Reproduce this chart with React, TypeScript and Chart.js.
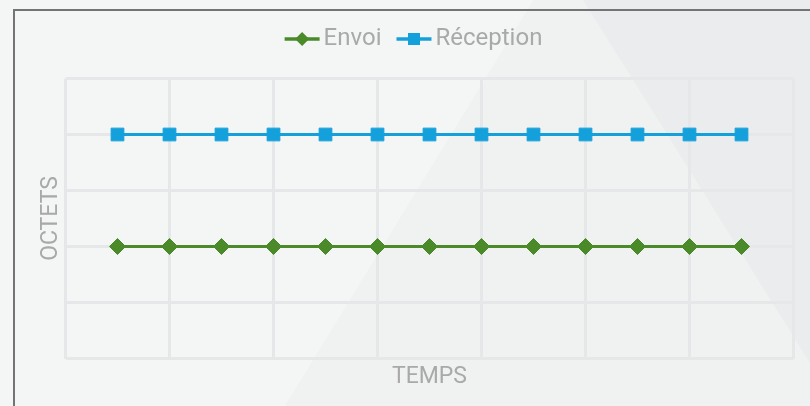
import React, { useEffect, useRef } from 'react';
import { Chart, registerables } from 'chart.js';

Chart.register(...registerables);

// ---- data ----
const TIME_STEPS = [1, 2, 3, 4, 5, 6, 7, 8, 9, 10, 11, 12, 13];
const ENVOI = [2, 2, 2, 2, 2, 2, 2, 2, 2, 2, 2, 2, 2];
const RECEPTION = [4, 4, 4, 4, 4, 4, 4, 4, 4, 4, 4, 4, 4];
const SERIES_LABELS = ['Envoi', 'Réception'];
const X_TITLE = 'TEMPS';
const Y_TITLE = 'OCTETS';
const X_RANGE = [0, 14];
const X_STEP = 2;
const Y_RANGE = [0, 5];
const Y_STEP = 1;

const GREEN = '#4a8a29';
const BLUE = '#14a0db';
const TEXT = '#a9a9a9';
const GRID = '#e6e7e9';
const FONT_FAMILY = 'Roboto';

const backgroundPlugin = {
  id: 'pageBackground',
  beforeDraw(chart: any) {
    const { ctx, width, height } = chart;
    ctx.save();
    ctx.fillStyle = '#f4f5f5';
    ctx.fillRect(0, 0, width, height);
    // inner triangle
    ctx.fillStyle = '#f0f1f1';
    ctx.beginPath();
    ctx.moveTo(558, -40);
    ctx.lineTo(285, height);
    ctx.lineTo(width, height);
    ctx.lineTo(width, 363);
    ctx.closePath();
    ctx.fill();
    // right region
    ctx.fillStyle = '#ebeced';
    ctx.beginPath();
    ctx.moveTo(558, -40);
    ctx.lineTo(width, 363);
    ctx.lineTo(width, -40);
    ctx.closePath();
    ctx.fill();
    // frame
    ctx.fillStyle = '#747474';
    ctx.fillRect(13, 9, width - 13, 2);
    ctx.fillRect(13, 9, 2, height - 9);
    ctx.restore();
  },
};

const legendPlugin = {
  id: 'lineLegend',
  afterDraw(chart: any) {
    const ctx = chart.ctx;
    ctx.save();
    ctx.font = `24px ${FONT_FAMILY}`;
    const lineW = 35;
    const gap = 4;
    const itemGap = 15;
    const items = chart.data.datasets.map((ds: any) => ({ ds, w: ctx.measureText(ds.label).width }));
    const total =
      items.reduce((s: number, it: any) => s + lineW + gap + it.w, 0) + itemGap * (items.length - 1);
    let x = 413.5 - total / 2;
    const y = 39;
    for (const it of items) {
      const ds = it.ds;
      ctx.strokeStyle = ds.borderColor;
      ctx.lineWidth = 3.5;
      ctx.beginPath();
      ctx.moveTo(x, y);
      ctx.lineTo(x + lineW, y);
      ctx.stroke();
      ctx.fillStyle = ds.borderColor;
      const cx = x + lineW / 2;
      ctx.beginPath();
      if (ds.pointStyle === 'rectRot') {
        const r = 7;
        ctx.moveTo(cx - r, y);
        ctx.lineTo(cx, y - r);
        ctx.lineTo(cx + r, y);
        ctx.lineTo(cx, y + r);
        ctx.closePath();
      } else {
        ctx.rect(cx - 6, y - 6, 12, 12);
      }
      ctx.fill();
      ctx.fillStyle = TEXT;
      ctx.textBaseline = 'middle';
      ctx.textAlign = 'left';
      ctx.fillText(ds.label, x + lineW + gap, y);
      x += lineW + gap + it.w + itemGap;
    }
    ctx.restore();
  },
};

export default function App() {
  const canvasRef = useRef<HTMLCanvasElement | null>(null);

  useEffect(() => {
    if (!canvasRef.current) return;
    const chart = new Chart(canvasRef.current, {
      type: 'line',
      data: {
        datasets: [
          {
            label: SERIES_LABELS[0],
            data: TIME_STEPS.map((t, i) => ({ x: t, y: ENVOI[i] })),
            borderColor: GREEN,
            backgroundColor: GREEN,
            borderWidth: 3,
            pointStyle: 'rectRot',
            pointRadius: 8,
            pointBorderWidth: 1,
            pointBackgroundColor: GREEN,
            pointBorderColor: GREEN,
          },
          {
            label: SERIES_LABELS[1],
            data: TIME_STEPS.map((t, i) => ({ x: t, y: RECEPTION[i] })),
            borderColor: BLUE,
            backgroundColor: BLUE,
            borderWidth: 3,
            pointStyle: 'rect',
            pointRadius: 9,
            pointBorderWidth: 1,
            pointBackgroundColor: BLUE,
            pointBorderColor: BLUE,
          },
        ],
      },
      options: {
        animation: false,
        responsive: false,
        maintainAspectRatio: false,
        layout: { padding: { left: 37, right: 16.5, top: 78.5, bottom: 15 } },
        plugins: {
          legend: { display: false },
          tooltip: { enabled: false },
        },
        font: { family: FONT_FAMILY },
        scales: {
          x: {
            type: 'linear',
            min: X_RANGE[0],
            max: X_RANGE[1],
            ticks: { display: false, stepSize: X_STEP },
            grid: { color: GRID, lineWidth: 3, drawTicks: false },
            border: { display: false },
            title: {
              display: true,
              text: X_TITLE,
              color: TEXT,
              font: { family: FONT_FAMILY, size: 23 },
              padding: 0,
            },
            afterFit: (scale: any) => {
              scale.height = 32.5;
            },
          },
          y: {
            type: 'linear',
            min: Y_RANGE[0],
            max: Y_RANGE[1],
            ticks: { display: false, stepSize: Y_STEP },
            grid: { color: GRID, lineWidth: 3, drawTicks: false },
            border: { display: false },
            title: {
              display: true,
              text: Y_TITLE,
              color: TEXT,
              font: { family: FONT_FAMILY, size: 23 },
              padding: 0,
            },
            afterFit: (scale: any) => {
              scale.width = 28.5;
            },
          },
        },
      } as any,
      plugins: [backgroundPlugin, legendPlugin],
    });
    return () => chart.destroy();
  }, []);

  return (
    <div style={{ position: 'fixed', left: 0, top: 0, width: 810, height: 406 }}>
      <canvas ref={canvasRef} width={810} height={406} style={{ display: 'block' }} />
    </div>
  );
}
